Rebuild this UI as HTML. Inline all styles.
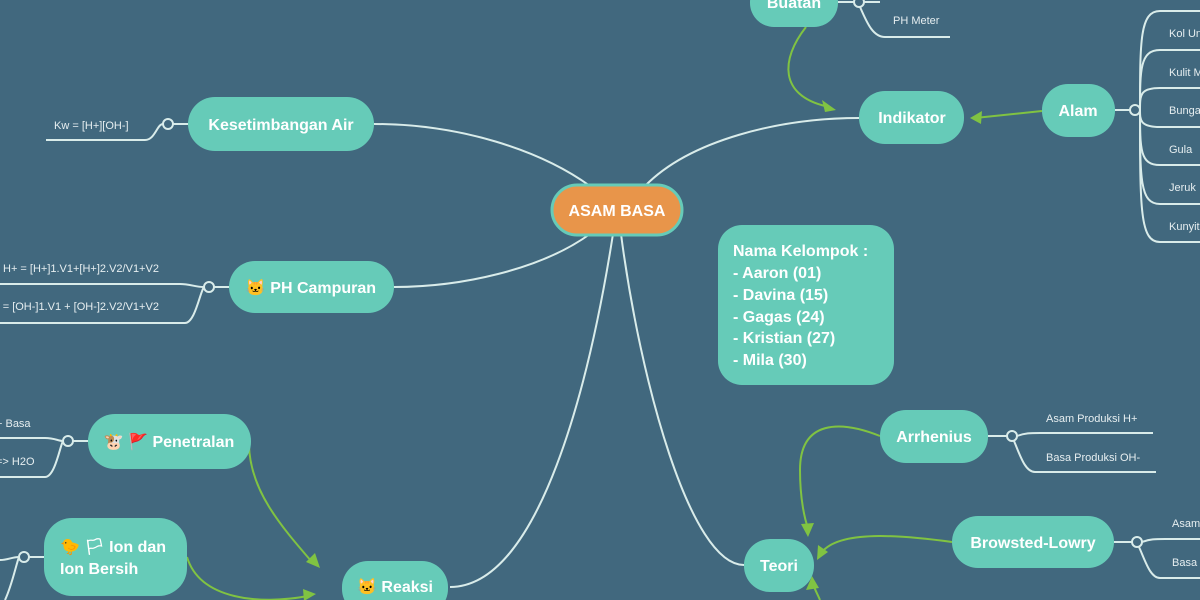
<!DOCTYPE html>
<html><head><meta charset="utf-8"><style>
html,body{margin:0;padding:0;width:1200px;height:600px;overflow:hidden;background:#41687e}
svg{display:block}
text{font-family:"Liberation Sans","Noto Sans CJK JP",sans-serif}
.n{fill:#66cbb8}
.t{fill:#fff;font-weight:bold;font-size:16px}
.s{fill:#e6eef0;font-size:11px}
.l{fill:none;stroke:#d9ecea;stroke-width:2}
.g{fill:none;stroke:#80c342;stroke-width:2}
.c{fill:#41687e;stroke:#d9ecea;stroke-width:2}
.a{fill:#80c342}
</style></head><body>
<svg width="1200" height="600" viewBox="0 0 1200 600" xmlns="http://www.w3.org/2000/svg">
<path class="l" d="M590,186 C540,150 460,124 374,124"/>
<path class="l" d="M645,186 C690,140 780,118 859,118"/>
<path class="l" d="M590,234 C540,270 460,287 394,287"/>
<path class="l" d="M613,234 C590,380 540,587 450,587"/>
<path class="l" d="M621,234 C640,380 690,565 744,565"/>

<path class="l" d="M46,140 H145 C155,140 157,124 163,124"/>
<circle class="c" cx="168" cy="124" r="5"/><line class="l" x1="173" y1="124" x2="188" y2="124"/>
<text class="s" x="54" y="129">Kw = [H+][OH-]</text>

<path class="l" d="M0,284 H180 C190,284 195,287 204,287"/>
<path class="l" d="M0,323 H185 C195,323 200,292 204,287"/>
<circle class="c" cx="209" cy="287" r="5"/><line class="l" x1="214" y1="287" x2="229" y2="287"/>
<text class="s" x="3" y="272">H+ = [H+]1.V1+[H+]2.V2/V1+V2</text>
<text class="s" x="-4" y="310">- = [OH-]1.V1 + [OH-]2.V2/V1+V2</text>

<path class="l" d="M0,438 H45 C55,438 58,441 63,441"/>
<path class="l" d="M0,477 H45 C55,477 60,446 63,441"/>
<circle class="c" cx="68" cy="441" r="5"/><line class="l" x1="73" y1="441" x2="88" y2="441"/>
<text class="s" x="-4" y="427">+ Basa</text>
<text class="s" x="-4" y="465">=&gt; H2O</text>

<path class="l" d="M0,560 C8,560 12,557 19,557"/>
<path class="l" d="M5,600 C12,585 16,565 19,557"/>
<circle class="c" cx="24" cy="557" r="5"/><line class="l" x1="29" y1="557" x2="44" y2="557"/>

<path class="l" d="M864,2 H880"/>
<path class="l" d="M860,7 C866,20 872,37 885,37 H950"/>
<line class="l" x1="838" y1="2" x2="854" y2="2"/><circle class="c" cx="859" cy="2" r="5"/>
<text class="s" x="893" y="24">PH Meter</text>

<line class="l" x1="1115" y1="110" x2="1130" y2="110"/>
<g class="l">
<path d="M1140,110 C1140,40 1140,11 1160,11 H1200"/>
<path d="M1140,110 C1140,70 1140,50 1160,50 H1200"/>
<path d="M1140,110 C1140,95 1140,88 1160,88 H1200"/>
<path d="M1140,110 C1140,120 1140,127 1160,127 H1200"/>
<path d="M1140,110 C1140,150 1140,165 1160,165 H1200"/>
<path d="M1140,110 C1140,180 1140,204 1160,204 H1200"/>
<path d="M1140,110 C1140,210 1140,242 1160,242 H1200"/>
</g>
<circle class="c" cx="1135" cy="110" r="5"/>
<text class="s" x="1169" y="37">Kol Ungu</text>
<text class="s" x="1169" y="76">Kulit Manggis</text>
<text class="s" x="1169" y="114">Bunga</text>
<text class="s" x="1169" y="153">Gula</text>
<text class="s" x="1169" y="191">Jeruk</text>
<text class="s" x="1169" y="230">Kunyit</text>

<line class="l" x1="988" y1="436" x2="1007" y2="436"/><circle class="c" cx="1012" cy="436" r="5"/>
<path class="l" d="M1017,436 C1025,433 1030,433 1040,433 H1153"/>
<path class="l" d="M1014,441 C1020,455 1025,472 1035,472 H1156"/>
<text class="s" x="1046" y="422">Asam Produksi H+</text>
<text class="s" x="1046" y="461">Basa Produksi OH-</text>

<line class="l" x1="1114" y1="542" x2="1132" y2="542"/><circle class="c" cx="1137" cy="542" r="5"/>
<path class="l" d="M1142,542 C1150,539 1155,539 1165,539 H1200"/>
<path class="l" d="M1139,547 C1145,560 1150,578 1160,578 H1200"/>
<text class="s" x="1172" y="527">Asam</text>
<text class="s" x="1172" y="566">Basa</text>

<path class="g" d="M806,27 C780,60 780,95 825,106"/><polygon class="a" points="836,110 822,100 825,112"/>
<path class="g" d="M1042,111 L975,118"/><polygon class="a" points="970,118 982,111 981,124"/>
<path class="g" d="M880,436 C840,420 800,420 800,470 C800,500 805,520 808,528"/><polygon class="a" points="808,537 801,524 814,523"/>
<path class="g" d="M952,542 C900,535 840,530 822,552"/><polygon class="a" points="817,560 818,545 828,552"/>
<path class="g" d="M820,600 C818,595 815,590 813,584"/><polygon class="a" points="812,576 806,590 819,588"/>
<path class="g" d="M249,445 C250,490 280,525 312,562"/><polygon class="a" points="320,568 306,562 315,553"/>
<path class="g" d="M187,557 C200,600 260,605 308,596"/><polygon class="a" points="316,594 303,589 304,601"/>

<rect x="552" y="185" width="130" height="50" rx="25" fill="#e8954a" stroke="#66cbb8" stroke-width="3"/>
<text class="t" x="617" y="216" text-anchor="middle" font-size="17">ASAM BASA</text>

<rect class="n" x="188" y="97" width="186" height="54" rx="27"/>
<text class="t" x="281" y="130" text-anchor="middle">Kesetimbangan Air</text>

<rect class="n" x="229" y="261" width="165" height="52" rx="26"/>
<text class="t" x="311" y="293" text-anchor="middle">🐱 PH Campuran</text>

<rect class="n" x="88" y="414" width="163" height="55" rx="27"/>
<text class="t" x="169" y="447" text-anchor="middle">🐮 🚩 Penetralan</text>

<rect class="n" x="44" y="518" width="143" height="78" rx="28"/>
<text class="t" x="60" y="552">🐤 🏳 Ion dan</text>
<text class="t" x="60" y="574">Ion Bersih</text>

<rect class="n" x="342" y="561" width="106" height="54" rx="26"/>
<text class="t" x="395" y="592" text-anchor="middle">🐱 Reaksi</text>

<rect class="n" x="750" y="-22" width="88" height="49" rx="24"/>
<text class="t" x="794" y="8" text-anchor="middle">Buatan</text>

<rect class="n" x="859" y="91" width="105" height="53" rx="26"/>
<text class="t" x="912" y="123" text-anchor="middle">Indikator</text>

<rect class="n" x="1042" y="84" width="73" height="53" rx="26"/>
<text class="t" x="1078" y="116" text-anchor="middle">Alam</text>

<rect class="n" x="718" y="225" width="176" height="160" rx="24"/>
<g class="t">
<text x="733" y="256">Nama Kelompok :</text>
<text x="733" y="278">- Aaron (01)</text>
<text x="733" y="300">- Davina (15)</text>
<text x="733" y="322">- Gagas (24)</text>
<text x="733" y="343">- Kristian (27)</text>
<text x="733" y="365">- Mila (30)</text>
</g>

<rect class="n" x="880" y="410" width="108" height="53" rx="26"/>
<text class="t" x="934" y="442" text-anchor="middle">Arrhenius</text>

<rect class="n" x="952" y="516" width="162" height="52" rx="26"/>
<text class="t" x="1033" y="548" text-anchor="middle">Browsted-Lowry</text>

<rect class="n" x="744" y="539" width="70" height="53" rx="26"/>
<text class="t" x="779" y="571" text-anchor="middle">Teori</text>
</svg>
</body></html>
